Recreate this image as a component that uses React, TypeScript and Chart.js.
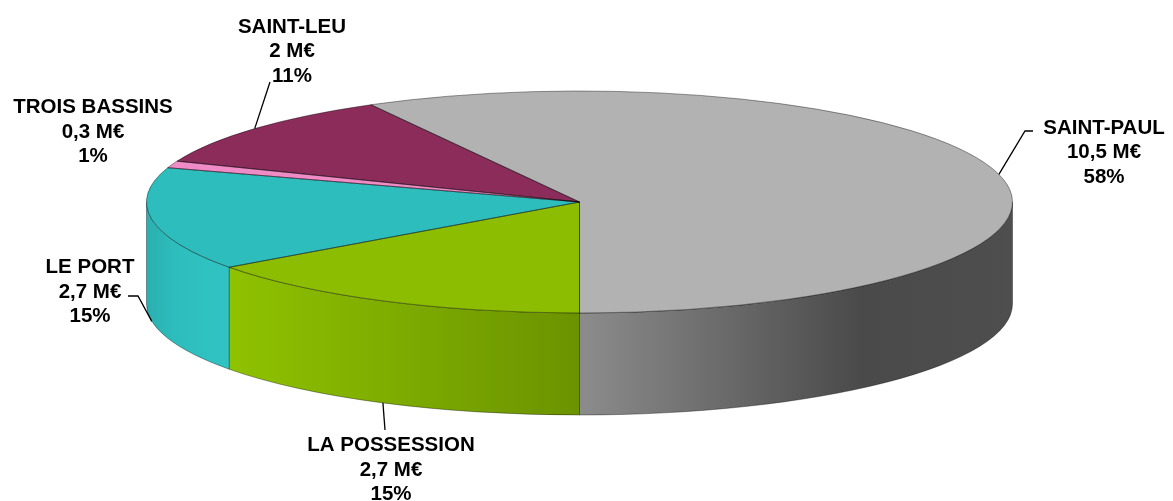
import { useEffect, useRef } from "react";
import { Chart, registerables } from "chart.js";

Chart.register(...registerables);

// ---- data ----
const communes = ["SAINT-PAUL", "LA POSSESSION", "LE PORT", "TROIS BASSINS", "SAINT-LEU"];
const amountsMEur = [10.5, 2.7, 2.7, 0.3, 2];
const sharesPct = [58, 15, 15, 1, 11];

// ---- styles / layout ----
const topColors = ["#b2b2b2", "#8dbd00", "#2ebdbd", "#ef8bc6", "#8b2c5a"];
const wallStops: [number, string][][] = [
  [[0, "#8c8c8c"], [0.65, "#4a4a4a"], [1, "#4e4e4e"]],
  [[0, "#8fc200"], [1, "#6b9300"]],
  [[0, "#2aafaf"], [0.35, "#2ebdbd"], [1, "#31c3c3"]],
  [[0, "#d97db3"], [1, "#ef8bc6"]],
  [[0, "#6e2347"], [1, "#8b2c5a"]],
];
const labelCenters = [
  { x: 1104, y: 126.5 },
  { x: 391, y: 444 },
  { x: 90, y: 266 },
  { x: 93, y: 106 },
  { x: 292, y: 25.5 },
];
const leaderBends: (number[][] | null)[] = [
  [[1025, 131], [1033, 131]],
  [[385, 430]],
  [[138, 296], [128, 296]],
  null,
  [[270, 82]],
];
const X_STRETCH = 433 / 111;
const DEPTH = 102;
const LINE_GAP = 24.5;

function fmtAmount(v: number) {
  return String(v).replace(".", ",") + " M€";
}

const pie3d = {
  id: "pie3d",
  beforeDatasetsDraw(chart: any) {
    const ctx: CanvasRenderingContext2D = chart.ctx;
    const arcs = chart.getDatasetMeta(0).data as any[];
    if (!arcs.length) return;
    const { x: cx, y: cy, outerRadius: r } = arcs[0].getProps(["x", "y", "outerRadius"], true);
    const rx = r * X_STRETCH;
    const ry = r;
    const TAU = Math.PI * 2;
    ctx.save();
    arcs.forEach((arc: any, i: number) => {
      const { startAngle, endAngle } = arc.getProps(["startAngle", "endAngle"], true);
      for (const k of [-1, 0, 1]) {
        const lo = Math.max(startAngle, k * TAU);
        const hi = Math.min(endAngle, k * TAU + Math.PI);
        if (hi - lo < 1e-6) continue;
        const xa = cx + rx * Math.cos(lo);
        const xb = cx + rx * Math.cos(hi);
        const g = ctx.createLinearGradient(Math.min(xa, xb), 0, Math.max(xa, xb), 0);
        wallStops[i].forEach(([o, c]) => g.addColorStop(o, c));
        ctx.beginPath();
        ctx.ellipse(cx, cy, rx, ry, 0, lo, hi);
        ctx.lineTo(cx + rx * Math.cos(hi), cy + DEPTH + ry * Math.sin(hi));
        ctx.ellipse(cx, cy + DEPTH, rx, ry, 0, hi, lo, true);
        ctx.closePath();
        ctx.fillStyle = g;
        ctx.fill();
        ctx.strokeStyle = "rgba(0,0,0,0.35)";
        ctx.lineWidth = 1;
        ctx.stroke();
      }
    });
    ctx.restore();
    ctx.save();
    ctx.translate(cx, cy);
    ctx.scale(X_STRETCH, 1);
    ctx.translate(-cx, -cy);
  },
  afterDatasetsDraw(chart: any) {
    const ctx: CanvasRenderingContext2D = chart.ctx;
    ctx.restore();
    const arcs = chart.getDatasetMeta(0).data as any[];
    if (!arcs.length) return;
    const { x: cx, y: cy, outerRadius: r } = arcs[0].getProps(["x", "y", "outerRadius"], true);
    const rx = r * X_STRETCH;
    const ry = r;
    ctx.save();
    ctx.strokeStyle = "rgba(0,0,0,0.4)";
    ctx.lineWidth = 1;
    arcs.forEach((arc: any) => {
      const { startAngle, endAngle } = arc.getProps(["startAngle", "endAngle"], true);
      ctx.beginPath();
      ctx.moveTo(cx, cy);
      ctx.ellipse(cx, cy, rx, ry, 0, startAngle, endAngle);
      ctx.closePath();
      ctx.stroke();
    });
    ctx.restore();
  },
  afterDraw(chart: any) {
    const ctx: CanvasRenderingContext2D = chart.ctx;
    const arcs = chart.getDatasetMeta(0).data as any[];
    if (!arcs.length) return;
    const { x: cx, y: cy, outerRadius: r } = arcs[0].getProps(["x", "y", "outerRadius"], true);
    const rx = r * X_STRETCH;
    const ry = r;
    ctx.save();
    arcs.forEach((arc: any, i: number) => {
      const { startAngle, endAngle } = arc.getProps(["startAngle", "endAngle"], true);
      const bends = leaderBends[i];
      if (bends) {
        const a = (startAngle + endAngle) / 2;
        const front = Math.sin(a) > 0;
        const ax = cx + rx * Math.cos(a);
        const ay = cy + ry * Math.sin(a) + (front ? DEPTH : 0);
        ctx.beginPath();
        ctx.moveTo(ax, ay);
        bends.forEach(([bx, by]) => ctx.lineTo(bx, by));
        ctx.strokeStyle = "#000";
        ctx.lineWidth = 1.3;
        ctx.stroke();
      }
      const lines = [communes[i], fmtAmount(amountsMEur[i]), sharesPct[i] + "%"];
      ctx.fillStyle = "#000";
      ctx.font = 'bold 20.5px "Liberation Sans", Arial, sans-serif';
      ctx.textAlign = "center";
      ctx.textBaseline = "alphabetic";
      const c = labelCenters[i];
      lines.forEach((t, j) => {
        ctx.fillText(t, c.x, c.y + j * LINE_GAP + 7.4);
      });
    });
    ctx.restore();
  },
};

export default function App() {
  const ref = useRef<HTMLCanvasElement | null>(null);
  useEffect(() => {
    if (!ref.current) return;
    const chart = new Chart(ref.current, {
      type: "pie",
      data: {
        labels: communes,
        datasets: [
          {
            data: sharesPct,
            backgroundColor: topColors,
            borderWidth: 0,
            hoverOffset: 0,
            offset: 0,
          } as any,
        ],
      },
      options: {
        animation: false,
        responsive: false,
        events: [],
        rotation: -28.8,
        radius: 111,
        layout: { padding: { left: 468.5, right: 482.5, top: 91, bottom: 188 } },
        plugins: { legend: { display: false }, tooltip: { enabled: false } },
      } as any,
      plugins: [pie3d],
    });
    return () => chart.destroy();
  }, []);
  return (
    <div style={{ position: "fixed", left: 0, top: 0, width: 1173, height: 501, background: "#fff" }}>
      <canvas ref={ref} width={1173} height={501} />
    </div>
  );
}
